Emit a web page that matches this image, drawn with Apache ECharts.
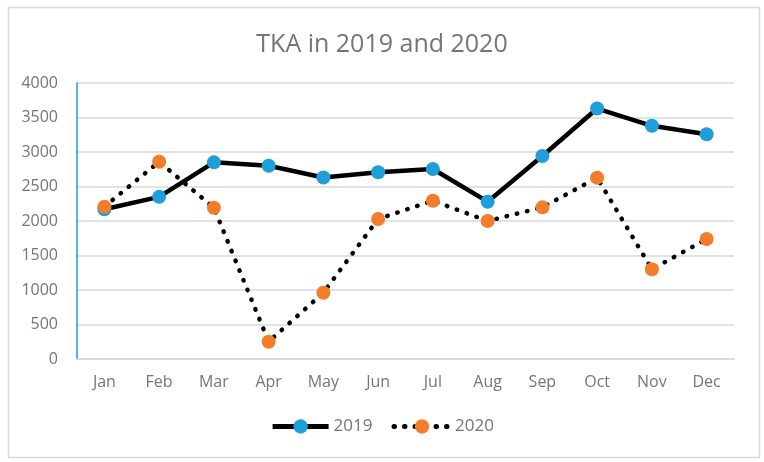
<!DOCTYPE html>
<html>
<head>
<meta charset="utf-8">
<script src="https://cdn.jsdelivr.net/npm/echarts@6/dist/echarts.min.js"></script>
<style>
html,body{margin:0;padding:0;background:#fff;}
#c{width:764px;height:462px;}
</style>
</head>
<body>
<div id="c"></div>
<script>
var months = ['Jan','Feb','Mar','Apr','May','Jun','Jul','Aug','Sep','Oct','Nov','Dec'];
var tka2019 = [2170, 2350, 2850, 2800, 2630, 2706, 2754, 2280, 2942, 3630, 3380, 3257];
var tka2020 = [2207, 2859, 2193, 251, 961, 2029, 2294, 2000, 2198, 2628, 1300, 1739];
var yTicks = [0, 500, 1000, 1500, 2000, 2500, 3000, 3500, 4000];

var FONT = '"Open Sans", sans-serif';
var TXT = '#757575';
var BLUE = '#1f9ed9';
var ORANGE = '#f47c2a';

var chart = echarts.init(document.getElementById('c'), null, {renderer:'canvas'});
chart.setOption({
  backgroundColor: '#fff',
  animation: false,
  graphic: [{
    type: 'rect', left: 6, top: 5, silent: true,
    shape: {width: 751, height: 450},
    style: {fill: 'none', stroke: '#d9d9d9', lineWidth: 1.5}
  }],
  title: {
    text: 'TKA in 2019 and 2020',
    left: 'center', top: 27,
    textStyle: {fontFamily: FONT, fontSize: 25, fontWeight: 'normal', color: TXT}
  },
  legend: {
    bottom: 22, left: 'center',
    itemWidth: 56, itemHeight: 18, itemGap: 19,
    lineStyle: {width: 5},
    textStyle: {fontFamily: FONT, fontSize: 17, color: TXT},
    data: ['2019', '2020']
  },
  grid: {left: 77, right: 30, top: 83, bottom: 103, containLabel: false},
  xAxis: {
    type: 'category', data: months, boundaryGap: true,
    axisLine: {show: true, lineStyle: {color: '#d9d9d9', width: 1.5}},
    axisTick: {show: false},
    axisLabel: {fontFamily: FONT, fontSize: 16, color: TXT, margin: 15}
  },
  yAxis: {
    type: 'value', min: yTicks[0], max: yTicks[yTicks.length - 1], interval: 500,
    axisLine: {show: true, lineStyle: {color: BLUE, width: 1.5}},
    axisTick: {show: false},
    axisLabel: {fontFamily: FONT, fontSize: 16, color: TXT, margin: 19,
      formatter: function (v) { return String(v); }},
    splitLine: {lineStyle: {color: '#d9d9d9', width: 1.5}}
  },
  series: [{
    name: '2019', type: 'line', data: tka2019,
    symbol: 'circle', symbolSize: 14,
    itemStyle: {color: BLUE},
    lineStyle: {color: '#000', width: 4.5, type: 'solid'},
    z: 3
  }, {
    name: '2020', type: 'line', data: tka2020,
    symbol: 'circle', symbolSize: 14,
    itemStyle: {color: ORANGE},
    lineStyle: {color: '#000', width: 4.5, type: [0.5, 10], cap: 'round'},
    z: 4
  }]
});
</script>
</body>
</html>
